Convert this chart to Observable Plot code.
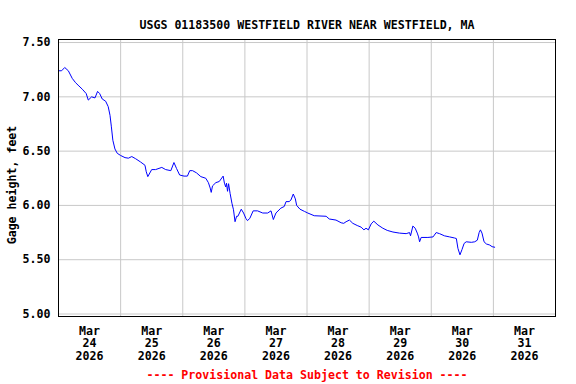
<!DOCTYPE html>
<html>
<head>
<meta charset="utf-8">
<script src="https://cdn.jsdelivr.net/npm/d3@7"></script>
<script src="https://cdn.jsdelivr.net/npm/@observablehq/plot@0.6"></script>
<style>
  html, body { margin: 0; padding: 0; background: white; }
</style>
</head>
<body>
<div id="chart"></div>
<script>
// Hours after 2026-03-24 00:00 and gage height (feet)
const hoursFromStart = [
  0.1, 1.2, 2.4, 3.8, 5.3, 6.6, 7.9, 9.2, 10.7, 11.5, 12.8, 14.1, 15.1, 15.9, 16.9, 18.2, 19.2, 19.9, 20.4, 21.0,
  21.8, 22.7, 24.0, 25.7, 27.0, 28.3, 29.8, 31.7, 33.4, 33.9, 34.5, 36.0, 37.5, 39.9, 41.4, 43.4, 44.6, 45.6, 46.8, 48.5,
  49.8, 50.7, 51.8, 53.3, 55.0, 56.9, 57.9, 58.6, 59.0, 59.5, 60.8, 62.1, 63.6, 64.1, 64.6, 64.9, 65.3, 65.7, 66.3, 67.0,
  67.6, 68.2, 68.8, 69.3, 70.6, 71.5, 72.4, 73.0, 73.9, 75.2, 76.9, 78.9, 80.8, 82.1, 83.0, 84.0, 85.9, 87.2, 87.9, 89.1,
  89.8, 90.7, 91.5, 92.0, 93.3, 95.0, 96.3, 98.8, 103.4, 104.6, 107.2, 109.2, 110.2, 111.1, 112.4, 113.7, 115.4, 116.9, 118.0, 118.8,
  119.7, 120.8, 121.8, 123.4, 125.3, 127.0, 129.2, 131.7, 134.3, 135.6, 136.0, 136.9, 137.8, 138.6, 139.1, 139.5, 140.1, 142.7, 144.7, 145.9,
  147.2, 149.1, 151.1, 153.0, 153.7, 154.3, 155.1, 155.9, 156.7, 157.5, 159.5, 160.8, 161.8, 162.5, 163.0, 163.6, 164.4, 165.3, 166.6, 167.5,
  168.5
];
const gageHeight = [
  7.24, 7.24, 7.27, 7.24, 7.17, 7.13, 7.10, 7.07, 7.03, 6.97, 7.00, 6.99, 7.05, 7.03, 6.98, 6.96, 6.91, 6.83, 6.73, 6.60,
  6.52, 6.48, 6.46, 6.44, 6.435, 6.45, 6.43, 6.40, 6.37, 6.31, 6.265, 6.33, 6.33, 6.35, 6.33, 6.32, 6.395, 6.34, 6.28, 6.27,
  6.27, 6.32, 6.32, 6.30, 6.265, 6.25, 6.21, 6.16, 6.12, 6.18, 6.21, 6.22, 6.27, 6.205, 6.17, 6.205, 6.13, 6.20, 6.11, 6.02,
  5.96, 5.85, 5.90, 5.90, 5.965, 5.93, 5.88, 5.86, 5.88, 5.95, 5.95, 5.93, 5.93, 5.95, 5.87, 5.93, 5.975, 5.99, 6.035, 6.035,
  6.05, 6.105, 6.06, 6.00, 5.965, 5.945, 5.93, 5.905, 5.90, 5.875, 5.865, 5.84, 5.835, 5.85, 5.865, 5.835, 5.815, 5.80, 5.775, 5.79,
  5.775, 5.83, 5.855, 5.82, 5.79, 5.77, 5.755, 5.745, 5.74, 5.75, 5.72, 5.81, 5.79, 5.745, 5.71, 5.665, 5.705, 5.705, 5.71, 5.75,
  5.74, 5.72, 5.71, 5.70, 5.695, 5.605, 5.545, 5.595, 5.65, 5.665, 5.66, 5.665, 5.68, 5.75, 5.775, 5.745, 5.665, 5.645, 5.635, 5.62,
  5.615
];
const days = [24, 25, 26, 27, 28, 29, 30, 31];
const dayLabels = ["Mar\n24\n2026", "Mar\n25\n2026", "Mar\n26\n2026", "Mar\n27\n2026",
                   "Mar\n28\n2026", "Mar\n29\n2026", "Mar\n30\n2026", "Mar\n31\n2026"];
const yTicks = [5.0, 5.5, 6.0, 6.5, 7.0, 7.5];
const titleText = "USGS 01183500 WESTFIELD RIVER NEAR WESTFIELD, MA";
const yLabelText = "Gage height, feet";
const footerText = "---- Provisional Data Subject to Revision ----";

const start = Date.UTC(2026, 2, 24);
const data = hoursFromStart.map((h, i) => ({t: new Date(start + h * 3600e3), v: gageHeight[i]}));
const midnights = d3.range(1, 8).map(i => new Date(start + i * 864e5));
const noons = days.map((d, i) => new Date(start + i * 864e5 + 12 * 3600e3));

const chart = Plot.plot({
  width: 576,
  height: 384,
  marginLeft: 58,
  marginRight: 21,
  marginTop: 39,
  marginBottom: 68,
  style: {fontFamily: "'DejaVu Sans Mono', monospace", fontSize: "11.6px", fontWeight: "bold", background: "white", color: "black"},
  x: {type: "utc", domain: [new Date(start), new Date(start + 8 * 864e5)]},
  y: {domain: [4.977, 7.528]},
  marks: [
    Plot.gridX(midnights, {stroke: "#c8c8c8", strokeOpacity: 1}),
    Plot.gridY(yTicks, {stroke: "#c8c8c8", strokeOpacity: 1}),
    Plot.lineY(data, {x: "t", y: "v", stroke: "#0000ff", strokeWidth: 1}),
    Plot.frame({stroke: "black"}),
    Plot.axisY(yTicks, {tickSize: 0, tickPadding: 8, tickFormat: d3.format(".2f"), label: null}),
    Plot.axisX(noons, {tickSize: 0, tickPadding: 9, tickFormat: (d, i) => dayLabels[i], lineHeight: 1.1, label: null}),
    Plot.text([titleText], {frameAnchor: "top", dy: -19, text: d => d, fontSize: 11.6}),
    Plot.text([yLabelText], {frameAnchor: "left", dx: -46, dy: 7, rotate: -90, textAnchor: "middle", text: d => d, fontSize: 11.6}),
    Plot.text([footerText], {frameAnchor: "bottom", dy: 62, text: d => d, fill: "#ff0000", fontSize: 11.6})
  ]
});
document.getElementById("chart").appendChild(chart);
</script>
</body>
</html>
